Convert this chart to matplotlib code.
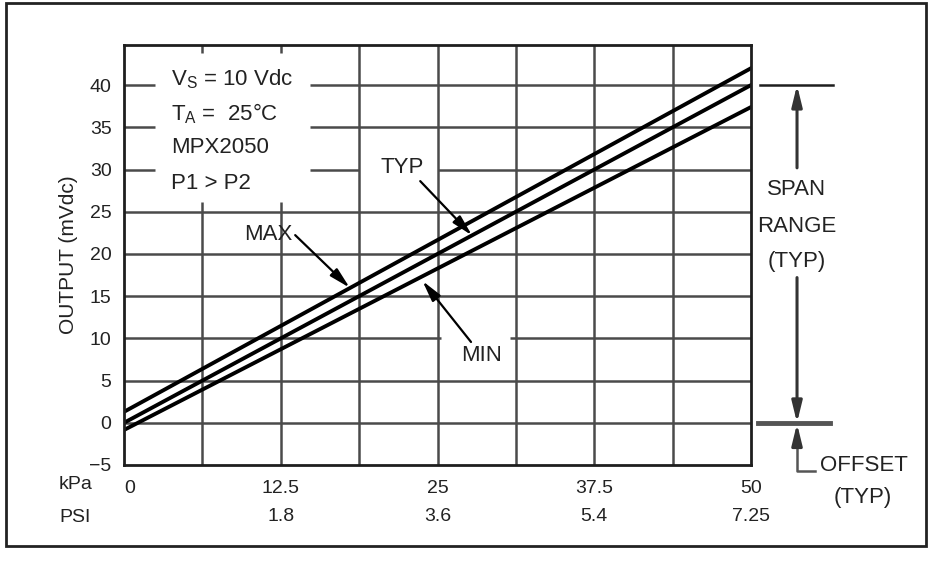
import matplotlib.pyplot as plt
from matplotlib.patches import Rectangle

plt.rcParams['font.family'] = ['Liberation Sans Narrow', 'Liberation Sans', 'DejaVu Sans']
plt.rcParams['mathtext.default'] = 'regular'

# output vs pressure, MPX2050
pressure_kpa = [0, 50]
output_max = [1.3, 42.0]
output_typ = [0.0, 40.0]
output_min = [-0.85, 37.4]

kpa_ticks = [0, 12.5, 25, 37.5, 50]
kpa_labels = ['0', '12.5', '25', '37.5', '50']
psi_ticks = [12.5, 25, 37.5, 50]
psi_labels = ['1.8', '3.6', '5.4', '7.25']
y_ticks = [-5, 0, 5, 10, 15, 20, 25, 30, 35, 40]
grid_x = [6.25, 12.5, 18.75, 25, 31.25, 37.5, 43.75]

ink = '#1e1e1e'
grid_c = '#4a4a4a'

fig = plt.figure(figsize=(9.29, 5.62), dpi=100)
ax = fig.add_axes([0.1335, 0.1726, 0.6749, 0.7473])
ax.set_xlim(0, 50)
ax.set_ylim(-5, 44.75)

# grid, with the gaps the original leaves for its labels
h_breaks = {
    40: [(0, 2.5), (14.8, 50)],
    35: [(0, 2.5), (14.8, 50)],
    30: [(0, 2.5), (14.8, 18.75), (25, 50)],
    10: [(0, 25.3), (30.8, 50)],
}
for y in y_ticks[1:]:
    for a, b in h_breaks.get(y, [(0, 50)]):
        ax.plot([a, b], [y, y], color=grid_c, lw=1.8, solid_capstyle='butt')

v_breaks = {6.25: [(-5, 26.2), (43.8, 44.75)], 12.5: [(-5, 26.2), (43.8, 44.75)]}
for x in grid_x:
    for a, b in v_breaks.get(x, [(-5, 44.75)]):
        ax.plot([x, x], [a, b], color=grid_c, lw=1.8, solid_capstyle='butt')

for s in ax.spines.values():
    s.set_linewidth(2.0)
    s.set_color(ink)

# the three curves
for vals in (output_max, output_typ, output_min):
    ax.plot(pressure_kpa, vals, color='black', lw=2.8)

ax.set_yticks(y_ticks, ['−5'] + [str(v) for v in y_ticks[1:]])
ax.set_xticks(kpa_ticks, kpa_labels)
ax.tick_params(length=0, labelsize=14, colors='#222222')
ax.tick_params(axis='y', pad=9)
ax.tick_params(axis='x', pad=11)
ax.get_xticklabels()[0].set_ha('left')

sec = ax.secondary_xaxis('bottom')
sec.set_xticks(psi_ticks, psi_labels)
sec.tick_params(length=0, pad=31, labelsize=14, colors='#222222')
sec.spines['bottom'].set_visible(False)

ax.set_ylabel('OUTPUT (mVdc)', fontsize=15, labelpad=8, color='#222222')

ax.text(-3.9, -7.3, 'kPa', fontsize=14, ha='center', va='center', color='#222222', clip_on=False)
ax.text(-3.9, -11.2, 'PSI', fontsize=14, ha='center', va='center', color='#222222', clip_on=False)

# conditions block
fs = 16
ax.text(3.75, 40.7, 'V$_S$ = 10 Vdc', fontsize=fs, va='center', color='#222222')
ax.text(3.75, 36.6, 'T$_A$ =  25°C', fontsize=fs, va='center', color='#222222')
ax.text(3.75, 32.6, 'MPX2050', fontsize=fs, va='center', color='#222222')
ax.text(3.75, 28.3, 'P1 > P2', fontsize=fs, va='center', color='#222222')

arrow = dict(arrowstyle='-|>,head_length=0.9,head_width=0.22', color='black', lw=1.6,
             shrinkA=0, shrinkB=0, mutation_scale=14)
ax.annotate('TYP', xy=(27.75, 22.2), xytext=(22.2, 30.2), fontsize=fs, ha='center', va='center',
            color='#222222', arrowprops=dict(arrow, relpos=(0.85, 0.0)))
ax.annotate('MAX', xy=(18.0, 16.0), xytext=(11.5, 22.3), fontsize=fs, ha='center', va='center',
            color='#222222', arrowprops=dict(arrow, relpos=(1.0, 0.6)))
ax.annotate('MIN', xy=(23.8, 16.8), xytext=(28.5, 8.0), fontsize=fs, ha='center', va='center',
            color='#222222', arrowprops=dict(arrow, relpos=(0.3, 1.0)))

# span / offset dimension marks right of the plot
xs = 53.67
ax.plot([50.7, 56.5], [40, 40], color=ink, lw=1.8, clip_on=False)
ax.plot([50.55, 56.3], [0, 0], color='#555555', lw=3.5, clip_on=False)
ax.annotate('', xy=(xs, 40), xytext=(xs, 30.2), annotation_clip=False,
            arrowprops=dict(arrow, color='#333333', lw=2.2))
ax.annotate('', xy=(xs, 0), xytext=(xs, 17.2), annotation_clip=False,
            arrowprops=dict(arrow, color='#333333', lw=2.2))
ax.annotate('', xy=(xs, -0.1), xytext=(xs, -2.6), annotation_clip=False,
            arrowprops=dict(arrow, color='#333333', lw=2.2))
ax.plot([xs, xs, 55.1], [-2.6, -5.7, -5.7], color='#555555', lw=1.8, clip_on=False)

ax.text(xs, 27.6, 'SPAN', fontsize=fs, ha='center', va='center', color='#222222', clip_on=False)
ax.text(xs, 23.2, 'RANGE', fontsize=fs, ha='center', va='center', color='#222222', clip_on=False)
ax.text(xs, 19.05, '(TYP)', fontsize=fs, ha='center', va='center', color='#222222', clip_on=False)
ax.text(55.5, -5.7, 'OFFSET', fontsize=fs, ha='left', va='baseline', color='#222222', clip_on=False)
ax.text(58.9, -8.9, '(TYP)', fontsize=fs, ha='center', va='center', color='#222222', clip_on=False)

# outer frame of the figure
fig.patches.append(Rectangle((6 / 929, 1 - 546 / 562), 920 / 929, 543 / 562,
                             transform=fig.transFigure, fill=False, lw=2.0, ec='#222222'))

fig.savefig('out.png', dpi=100)
